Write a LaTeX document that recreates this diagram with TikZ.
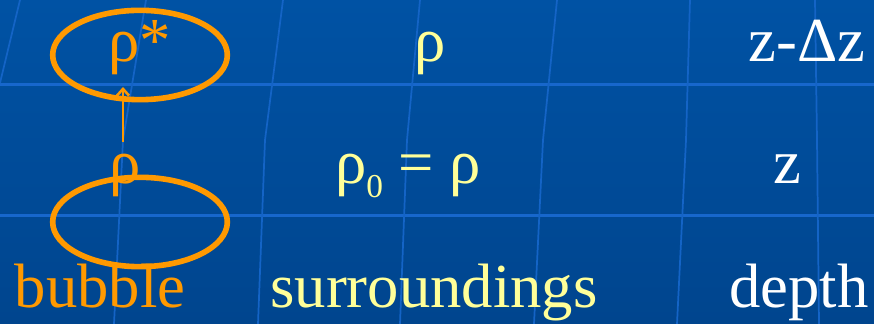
\documentclass[tikz,border=0pt]{standalone}
\usepackage{fontspec}
\setmainfont{Liberation Serif}
\usetikzlibrary{arrows.meta,shapes.geometric}
\definecolor{SlideTop}{HTML}{0052A4}
\definecolor{SlideLow}{HTML}{00458E}
\definecolor{Grid}{HTML}{1767CC}
\definecolor{Amber}{HTML}{FF9900}
\definecolor{Cream}{HTML}{FFFF99}

\begin{document}
\begin{tikzpicture}[x=0.75pt,y=0.75pt,
    word/.style={anchor=base,inner sep=0pt,font=\fontsize{47}{56}\selectfont},
    bubblering/.style={ellipse,draw=Amber,line width=4.2pt,inner sep=0pt,minimum width=131pt,minimum height=67pt}]
        \useasboundingbox (0,0) rectangle (874,324);
        \shade[top color=SlideTop,bottom color=SlideLow] (0,0) rectangle (874,324);

        % slide grid
        \draw[Grid,line width=2.25pt] (0,239) -- (874,239);
        \draw[Grid,line width=2.25pt] (0,108) -- (874,108);
        \draw[Grid!85!SlideTop,line width=1.3pt] (20,324) -- (0,241);
        \draw[Grid!85!SlideTop,line width=1.3pt] (146,324) -- (132,239) -- (123,184) -- (114,0);
        \draw[Grid!85!SlideTop,line width=1.3pt] (283,324) -- (265,184) -- (258,0);
        \draw[Grid!85!SlideTop,line width=1.3pt] (420,324) -- (407,184) -- (400,0);
        \draw[Grid!85!SlideTop,line width=1.3pt] (557,324) -- (543,184) -- (534,0);
        \draw[Grid!85!SlideTop,line width=1.3pt] (690,324) -- (686,184) -- (677,0);
        \draw[Grid!85!SlideTop,line width=1.3pt] (815,324) -- (817,184) -- (819,0);

        % rows: z - dz, z, labels
        \node[word,text=Amber] (rhostar) at (140,262) {ρ*};
        \node[word,text=Cream] (rhoup) at (430,262) {ρ};
        \node[word,text=white] (depthup) at (807,262) {z-Δz};

        \node[word,text=Amber] (rho) at (125,140) {ρ};
        \node[word,text=Cream] (rhozero) at (408,140) {ρ\raisebox{-10pt}{\fontsize{25}{25}\selectfont 0} = ρ};
        \node[word,text=white] (depthz) at (787,140) {z};

        \node[word,text=Amber] (bubble) at (100,16) {bubble};
        \node[word,text=Cream] (surround) at (434,16) {surroundings};
        \node[word,text=white] (depth) at (799,16) {depth};

        \node[bubblering] (bubbletop) at (140,269) {};
        \node[bubblering] (bubblelow) at (140,102) {};

        \coordinate (foot) at (123,182);
        \coordinate (tip) at (123,237);
        \draw[Amber,line width=1.9pt,-{Straight Barb[length=5pt,width=9pt]}] (foot) -- (tip);
      \end{tikzpicture}
\end{document}
